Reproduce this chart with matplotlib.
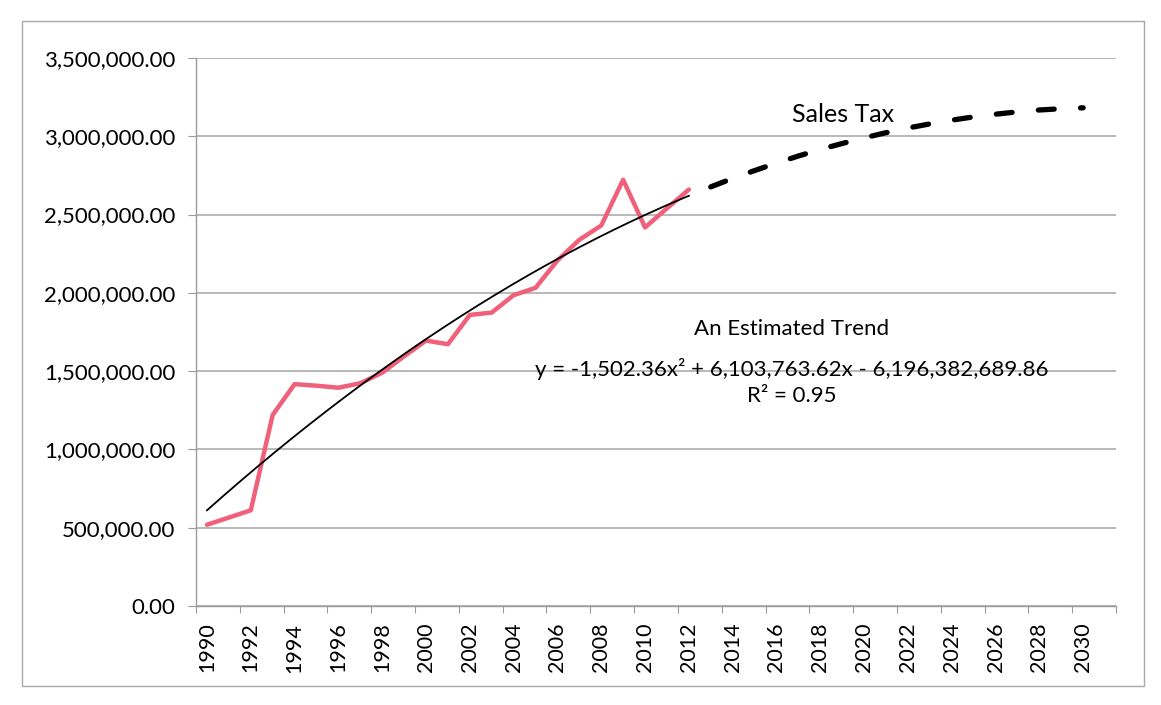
import matplotlib.pyplot as plt
import numpy as np
from matplotlib.patches import Rectangle
from matplotlib.ticker import FuncFormatter, MultipleLocator

years = np.arange(1990, 2013)
sales_tax = [519000, 565000, 611000, 1220000, 1417000, 1407000, 1394000,
             1423000, 1490000, 1595000, 1695000, 1672000, 1859000, 1874000,
             1985000, 2032000, 2207000, 2339000, 2430000, 2722000, 2418000,
             2540000, 2660000]

# projected sales tax (dashed series)
forecast_years = np.arange(2013, 2031)
forecast = [2677000, 2731000, 2781000, 2829000, 2874000, 2916000, 2954000,
            2990000, 3023000, 3053000, 3079000, 3103000, 3124000, 3141000,
            3156000, 3168000, 3176000, 3182000]

# printed trendline: y = a*x^2 + b*x + c, x = year
trend_coef = [-1502.36, 6103763.62, -6196382689.86]
trend_r2 = 0.95

label_years = np.arange(1990, 2031, 2)

plt.rcParams['font.family'] = ['Lato', 'DejaVu Sans']

fig = plt.figure(figsize=(11.61, 7.05), dpi=100)
ax = fig.add_axes([196 / 1161, 1 - 606 / 705, 920 / 1161, 548 / 705])

# chart area border
fig.patches.append(Rectangle((22 / 1161, 1 - 686 / 705), 1122 / 1161, 665 / 705,
                             transform=fig.transFigure, fill=False,
                             edgecolor='#a8a8a8', lw=1.0))

ax.plot(years, sales_tax, color='#f0607a', lw=3.2,
        solid_joinstyle='round', solid_capstyle='round', zorder=3)

tx = np.linspace(years[0], years[-1], 200)
ax.plot(tx, np.polyval(trend_coef, tx), color='black', lw=1.3, zorder=4)

ax.plot(forecast_years, forecast, color='black', lw=3.8,
        dashes=(3.0, 5.0), dash_capstyle='round', zorder=4)

ax.set_xlim(1989.5, 2031.5)
ax.set_ylim(0, 3500000)

ax.yaxis.set_major_locator(MultipleLocator(500000))
ax.yaxis.set_major_formatter(FuncFormatter(lambda v, _: f'{v:,.2f}'))
ax.grid(axis='y', color='#a6a6a6', lw=1.1)
ax.set_axisbelow(True)

# tick marks between categories, labels on the categories
ax.set_xticks(np.arange(1989.5, 2031.6, 2))
ax.set_xticklabels([])
ax.set_xticks(label_years, minor=True)
ax.set_xticklabels([str(y) for y in label_years], minor=True, rotation=90)

ax.tick_params(axis='x', which='major', length=5, color='#9a9a9a')
ax.tick_params(axis='x', which='minor', length=0, pad=12, labelsize=15.5)
ax.tick_params(axis='y', length=6, color='#9a9a9a', pad=9, labelsize=16)

for side in ['top', 'right']:
    ax.spines[side].set_visible(False)
for side in ['left', 'bottom']:
    ax.spines[side].set_color('#9a9a9a')
    ax.spines[side].set_linewidth(1.0)

ax.text(2019.05, 3140000, 'Sales Tax', fontsize=18, ha='center', va='center')

ax.text(2016.7, 1768000, 'An Estimated Trend', fontsize=16,
        ha='center', va='center')
ax.text(2016.7, 1512000,
        'y = -1,502.36x² + 6,103,763.62x - 6,196,382,689.86',
        fontsize=16, ha='center', va='center')
ax.text(2016.7, 1340000, f'R² = {trend_r2:.2f}', fontsize=16,
        ha='center', va='center')

fig.savefig('out.png', dpi=100)
